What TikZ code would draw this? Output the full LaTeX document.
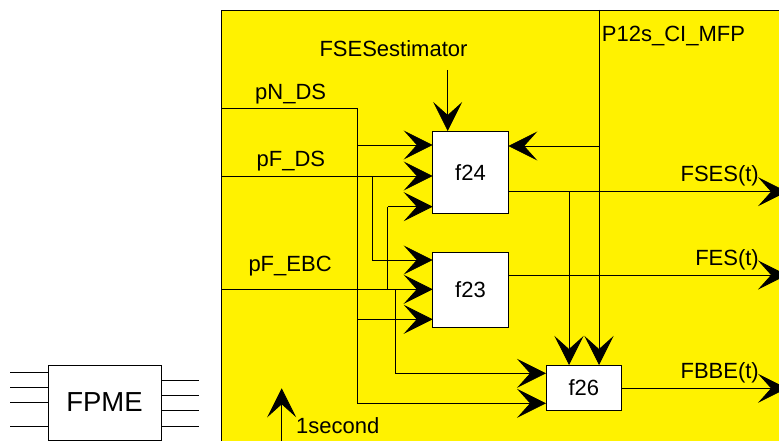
\documentclass[tikz,border=0pt]{standalone}
\usepackage{fontspec}
\setmainfont{Liberation Sans}
\usetikzlibrary{arrows.meta}
\tikzset{
  wire/.style={draw=black, line width=0.8pt},
  arr/.style={wire, -{Stealth[length=29pt,width=29pt,inset=13pt]}},
  fbox/.style={draw=black, line width=0.8pt, fill=white, inner sep=0pt, font=\fontsize{22}{26}\selectfont},
  lbl/.style={inner sep=0pt, font=\fontsize{22}{26}\selectfont},
}
\begin{document}
\begin{tikzpicture}[x=1pt,y=-1pt]
\clip (0,0) rectangle (779,441);
\fill[white] (0,0) rectangle (779,441);
% yellow panel
\draw[fill=yellow, line width=0.8pt] (221.7,10) rectangle (800,460);

% blocks
\node[fbox, minimum width=75.6pt, minimum height=82.3pt] (f24) at (470.5,172.15) {f24};
\node[fbox, minimum width=75.6pt, minimum height=75pt] (f23) at (470.5,289.8) {f23};
\node[fbox, minimum width=75.7pt, minimum height=45pt] (f26) at (583.85,387.5) {f26};
\node[fbox, minimum width=113pt, minimum height=75pt, font=\fontsize{27.5}{32}\selectfont] (fpme) at (104.5,402.5) {FPME};

% coordinates
\coordinate (pNin) at (221.7,108.3);
\coordinate (pNc) at (357,108.3);
\coordinate (pNb1) at (357,145);
\coordinate (pNb2) at (357,319.3);
\coordinate (pNb3) at (357,403.3);
\coordinate (pFin) at (221.7,176);
\coordinate (pFb) at (372.3,176);
\coordinate (pFb2) at (372.3,260);
\coordinate (pEin) at (221.7,289.3);
\coordinate (pEb1) at (387.7,289.3);
\coordinate (pEb1t) at (387.7,206.7);
\coordinate (pEb2) at (395,289.3);
\coordinate (pEb2b) at (395,373.3);
\coordinate (fse) at (447.7,70);
\coordinate (pTop) at (599,10);
\coordinate (pBr) at (599,146);
\coordinate (f24o) at (508.3,191.7);
\coordinate (f24br) at (569,191.7);
\coordinate (o1) at (787,191.7);
\coordinate (f23o) at (508.3,275);
\coordinate (o2) at (787,275);
\coordinate (f26o) at (621.7,388.3);
\coordinate (o3) at (787,388.3);
\coordinate (secB) at (281.7,445);
\coordinate (secT) at (281.7,388.3);

% f24 inputs
\coordinate (f24w1) at (432.7,145);
\coordinate (f24w2) at (432.7,176);
\coordinate (f24w3) at (432.7,206.7);
\coordinate (f24n) at (447.7,131);
\coordinate (f24e) at (508.3,146);
% f23 inputs
\coordinate (f23w1) at (432.7,260);
\coordinate (f23w2) at (432.7,289.3);
\coordinate (f23w3) at (432.7,319.3);
% f26 inputs
\coordinate (f26w1) at (546,373.3);
\coordinate (f26w2) at (546,403.3);
\coordinate (f26n1) at (569,365);
\coordinate (f26n2) at (599,365);

% pN_DS
\draw[wire] (pNin) -- (pNc) -- (pNb3);
\draw[arr] (pNb3) -- (f26w2);
\draw[arr] (pNb1) -- (f24w1);
\draw[arr] (pNb2) -- (f23w3);
% pF_DS
\draw[arr] (pFin) -- (f24w2);
\draw[wire] (pFb) -- (pFb2);
\draw[arr] (pFb2) -- (f23w1);
% pF_EBC
\draw[arr] (pEin) -- (f23w2);
\draw[wire] (pEb1) -- (pEb1t);
\draw[arr] (pEb1t) -- (f24w3);
\draw[wire] (pEb2) -- (pEb2b);
\draw[arr] (pEb2b) -- (f26w1);
% FSESestimator
\draw[arr] (fse) -- (f24n);
% P12s
\draw[arr] (pTop) -- (f26n2);
\draw[arr] (pBr) -- (f24e);
% outputs
\draw[arr] (f24o) -- (o1);
\draw[arr] (f24br) -- (f26n1);
\draw[arr] (f23o) -- (o2);
\draw[arr] (f26o) -- (o3);
% 1second
\draw[arr] (secB) -- (secT);

% FPME stubs
\foreach \y [count=\i] in {372.7,387.7,402.3,426} {
  \coordinate (fl\i) at (10,\y);
  \draw[wire] (fl\i) -- (fpme.west |- fl\i);
}
\foreach \y [count=\i] in {380.3,395,410.3,426} {
  \coordinate (fr\i) at (199,\y);
  \draw[wire] (fpme.east |- fr\i) -- (fr\i);
}

% labels
\node[lbl, anchor=base west] (tFSE) at (319.3,56.7) {FSESestimator};
\node[lbl, anchor=base west] (tpN) at (255,100) {pN\_DS};
\node[lbl, anchor=base west] (tpF) at (256.5,166.7) {pF\_DS};
\node[lbl, anchor=base west] (tpE) at (248.3,271.7) {pF\_EBC};
\node[lbl, anchor=base west] (tP12) at (601.7,41.7) {P12s\_CI\_MFP};
\node[lbl, anchor=base east] (tFSES) at (759,181.7) {FSES(t)};
\node[lbl, anchor=base east] (tFES) at (759,265) {FES(t)};
\node[lbl, anchor=base east] (tFBBE) at (759,378.3) {FBBE(t)};
\node[lbl, anchor=base west] (tsec) at (296,433.3) {1second};
\end{tikzpicture}
\end{document}
